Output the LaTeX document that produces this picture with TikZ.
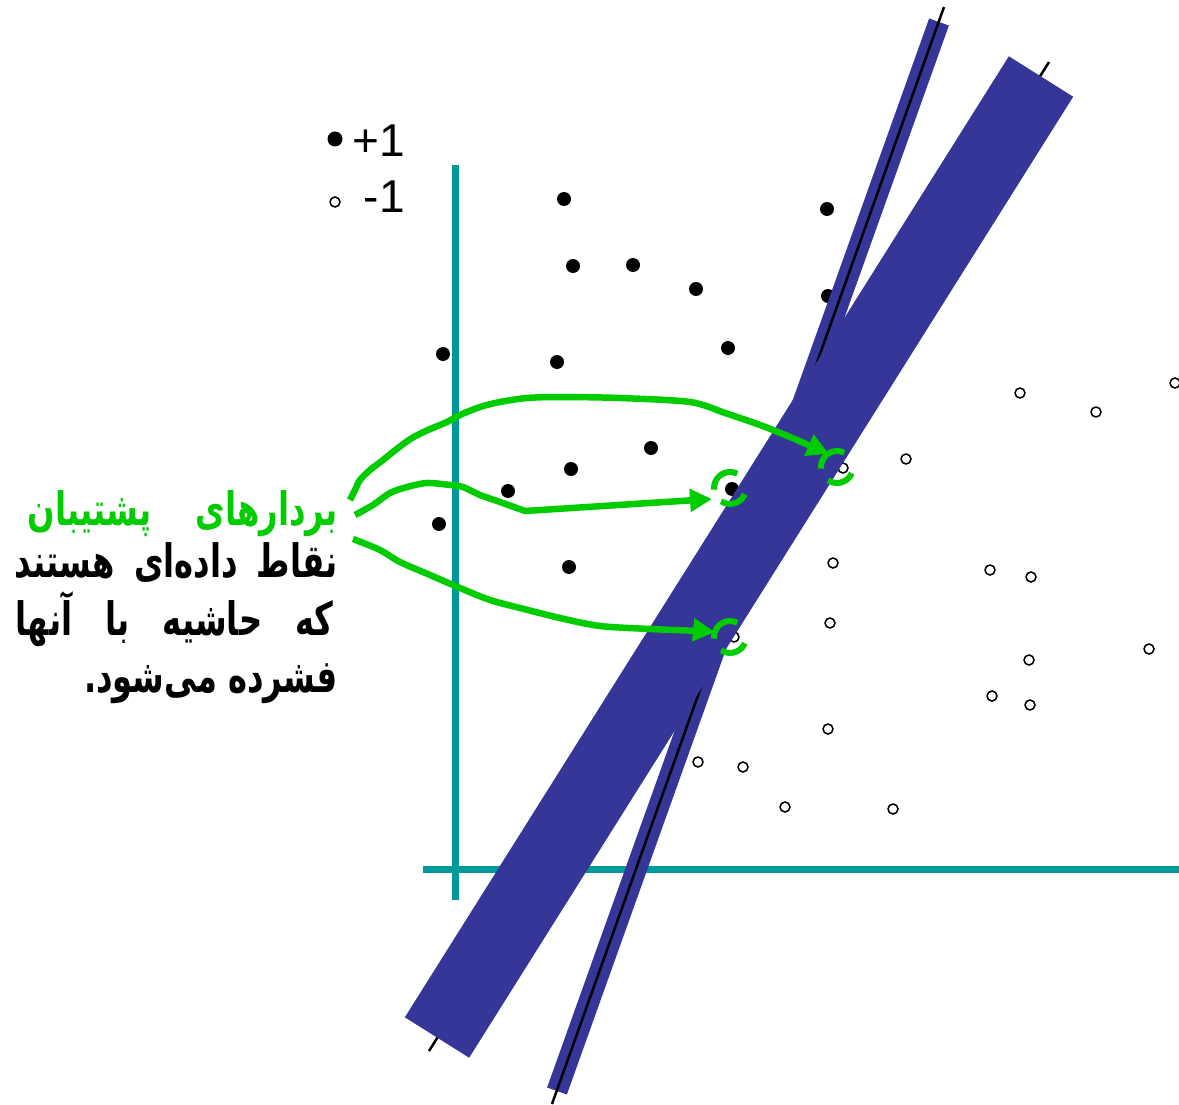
\documentclass[tikz,border=0pt]{standalone}
\usepackage{fontspec}
\setmainfont{Liberation Sans}
\newfontfamily\fa[Script=Arabic]{DejaVu Sans}
\TeXXeTstate=1
\usetikzlibrary{arrows.meta,calc}
\definecolor{bandblue}{RGB}{54,54,153}
\definecolor{axisteal}{RGB}{0,153,153}
\definecolor{svgreen}{RGB}{0,204,0}
\newcommand{\faline}[2]{\scalebox{0.7}[1]{\hbox to #1{\fa\bfseries\fontsize{46}{52}\selectfont\beginR #2\endR}}}
\newcommand{\fanat}[1]{\scalebox{0.7}[1]{\hbox{\fa\bfseries\fontsize{46}{52}\selectfont\beginR #1\endR}}}
\tikzset{
  axisline/.style={draw=axisteal, line width=7pt},
  posdot/.style={circle, fill=black, minimum size=14pt, inner sep=0pt},
  negdot/.style={circle, draw=black, fill=white, line width=1.5pt, minimum size=10pt, inner sep=0pt},
  narrowband/.style={draw=bandblue, line width=21pt},
  wideband/.style={draw=bandblue, line width=76pt},
  hyperline/.style={draw=black, line width=2.5pt},
  svarc/.style={draw=svgreen, line width=6pt},
  garrow/.style={draw=svgreen, line width=6.5pt, line join=round, -{Triangle[length=22pt,width=22pt]}},
  legtext/.style={anchor=base east, inner sep=0pt, font=\fontsize{46}{50}\selectfont},
  fatext/.style={anchor=base east, inner sep=0pt}
}
\begin{document}
\begin{tikzpicture}[x=1pt,y=1pt]
\useasboundingbox (0,0) rectangle (1179,-1105);
% axes
\coordinate (vtop) at (455,-165);
\coordinate (vbot) at (455,-900);
\coordinate (hl) at (423,-869);
\coordinate (hr) at (1179,-869);
\draw[axisline] (vtop) -- (vbot);
\draw[axisline] (hl) -- (hr);
% +1 points
\foreach \x/\y [count=\i] in {564/199, 827/209, 573/266, 633/265, 696/289, 828/296, 443/354, 557/362, 728/348, 651/448, 571/469, 508/491, 439/524, 569/567, 732/489}
  \node[posdot] (p\i) at (\x,-\y) {};
% -1 points
\foreach \x/\y [count=\i] in {1020/393, 1096/412, 1175/383, 843/468, 906/459, 833/563, 990/570, 1031/577, 830/623, 1149/649, 1029/660, 734/637, 992/696, 1030/705, 828/729, 698/762, 743/767, 785/807, 893/809}
  \node[negdot] (n\i) at (\x,-\y) {};
% legend
\node[posdot, minimum size=15pt] (lgp) at (335,-139) {};
\node[negdot] (lgn) at (335,-202) {};
\node[legtext] (lp) at (405,-157) {+1};
\node[legtext] (lm) at (405,-213) {-1};
% narrow band
\coordinate (nA) at (939,-22);
\coordinate (nB) at (557,-1091);
\coordinate (nlA) at (944,-7);
\coordinate (nlB) at (552,-1104);
\draw[narrowband] (nA) -- (nB);
\draw[hyperline] (nlA) -- (nlB);
% wide band
\coordinate (wA) at (1041,-76.5);
\coordinate (wB) at (437,-1037.5);
\coordinate (wlA) at (1049,-62);
\coordinate (wlB) at (429,-1051);
\draw[hyperline] (wlA) -- (wlB);
\draw[wideband] (wA) -- (wB);
% support vector marks
\coordinate (c1) at (730,-488);
\coordinate (c2) at (837,-467);
\coordinate (c3) at (730,-637);
\foreach \c in {c1,c2,c3}{
  \draw[svarc] ($(\c)+(63:16)$) arc[start angle=63, end angle=186, radius=16pt];
  \draw[svarc] ($(\c)+(236:16)$) arc[start angle=236, end angle=337, radius=16pt];
}
% text
\node[fatext, text=svgreen] (t1) at (338,-525) {\faline{442.9pt}{بردارهای\hfill پشتیبان}};
\node[fatext] (t2) at (338,-577) {\faline{461.4pt}{نقاط\hfill داده‌ای\hfill هستند}};
\node[fatext] (t3) at (334,-635) {\faline{454.3pt}{که\hfill حاشیه\hfill با\hfill آنها}};
\node[fatext] (t4) at (338,-692) {\fanat{فشرده می‌شود.}};
% arrows
\coordinate (s1) at (350,-500);
\coordinate (s2) at (355,-515);
\coordinate (s3) at (353,-539);
\coordinate (tip1) at (829,-454);
\coordinate (tip2) at (712,-499);
\coordinate (tip3) at (715,-632);
\draw[garrow] plot[smooth, tension=0.5] coordinates {(s1) (355,-490) (360,-480) (370,-470) (383,-460) (398,-448) (412,-438) (428,-430) (447,-422) (460,-415) (480,-407) (500,-402) (527,-398) (560,-397) (620,-398) (690,-402) (725,-413) (760,-425) (790,-437) (tip1)};
\draw[garrow] plot[smooth, tension=0.5] coordinates {(s2) (373,-505) (390,-493) (407,-487) (427,-483) (450,-485) (463,-487) (480,-495) (500,-502) (525,-511)} -- (tip2);
\draw[garrow] plot[smooth, tension=0.5] coordinates {(s3) (380,-550) (400,-562) (430,-575) (460,-588) (490,-600) (520,-608) (560,-618) (600,-626) (650,-629) (700,-631) (tip3)};
\end{tikzpicture}
\end{document}
